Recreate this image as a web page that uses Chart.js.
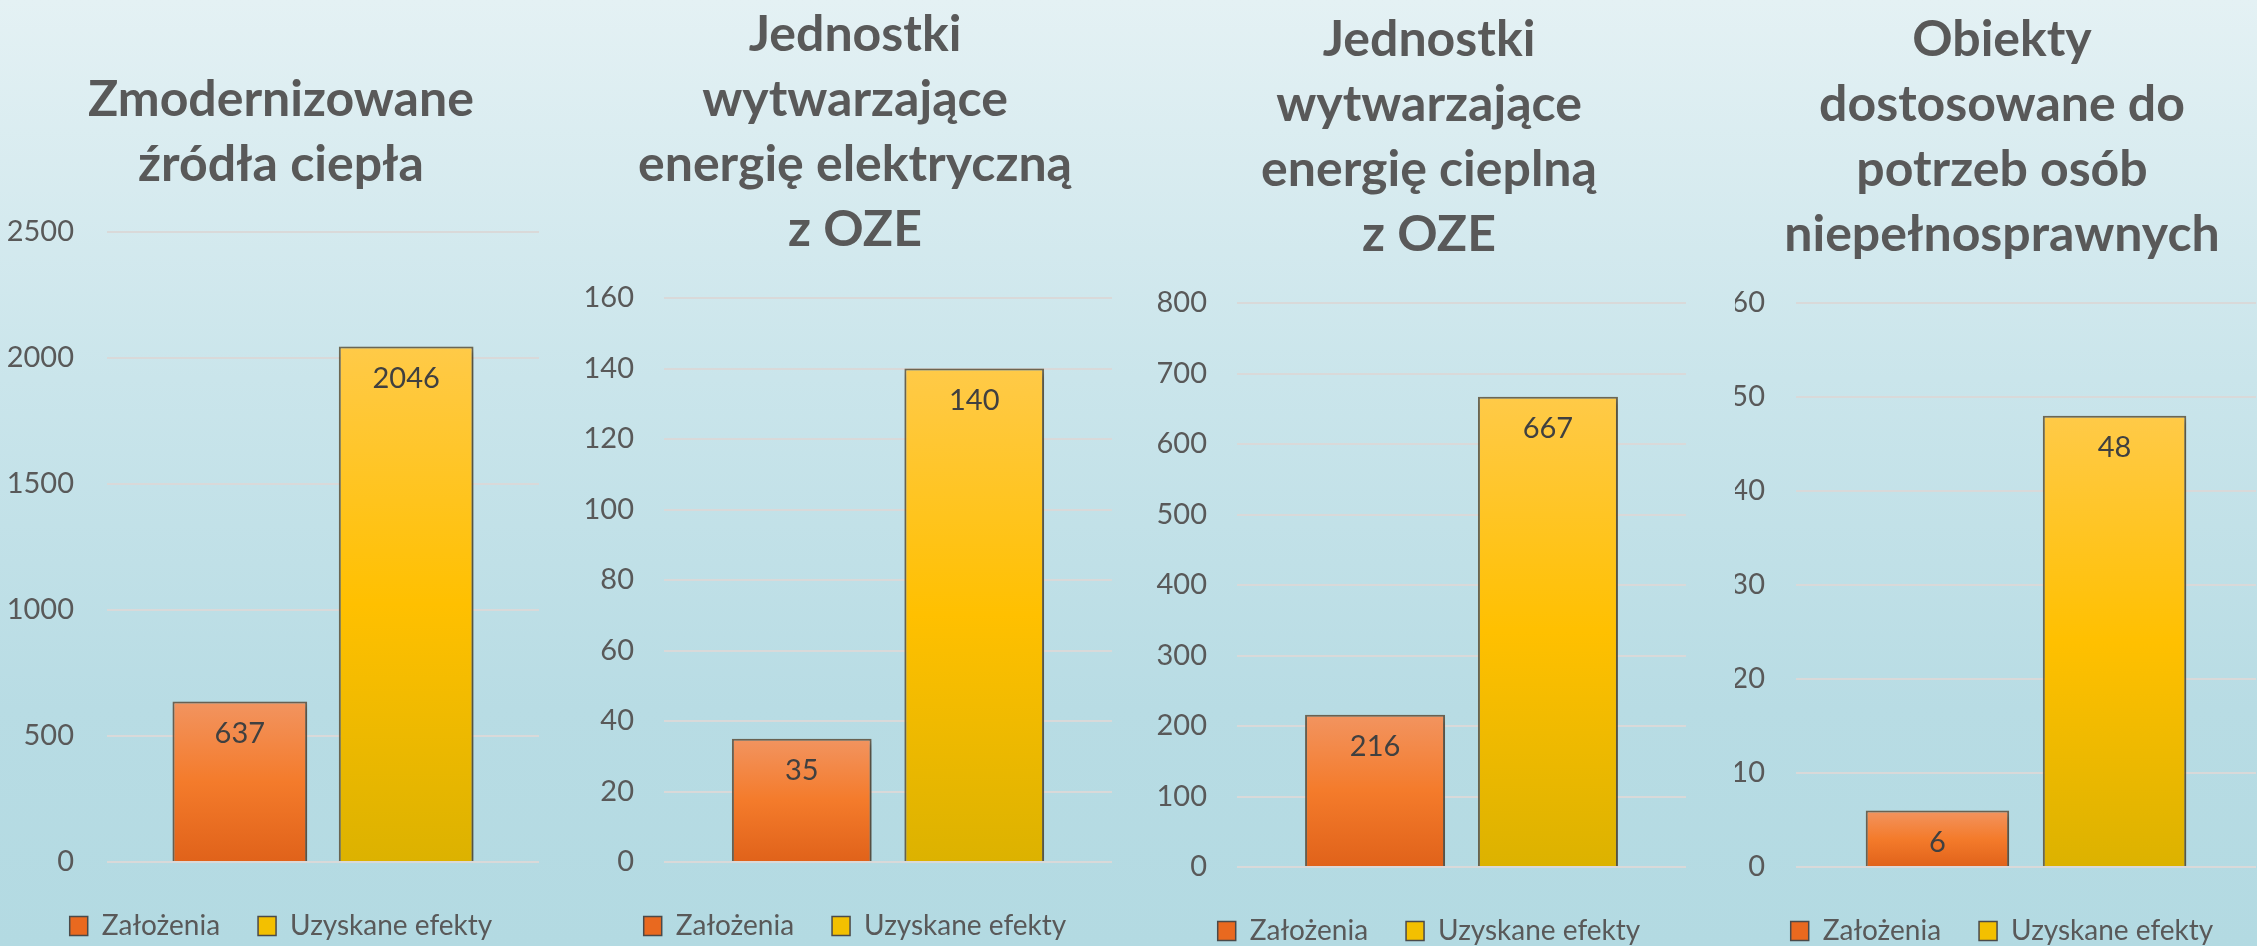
<!DOCTYPE html>
<html lang="pl">
<head>
<meta charset="utf-8">
<title>Efekty</title>
<script src="https://cdn.jsdelivr.net/npm/chart.js@4/dist/chart.umd.min.js"></script>
<style>
    html, body { margin: 0; width: 2257px; height: 946px; overflow: hidden; }
    body {
        position: relative;
        background: linear-gradient(180deg, #e4f1f4 0%, #cae5eb 40%, #b8dce4 75%, #b3dae2 100%);
    }
    canvas { position: absolute; top: 0; }
</style>
</head>
<body>
<canvas id="c0"></canvas>
<canvas id="c1"></canvas>
<canvas id="c2"></canvas>
<canvas id="c3"></canvas>
<script>
// Data
const seriesNames = ['Założenia', 'Uzyskane efekty'];
const titles = [
    ['Zmodernizowane', 'źródła ciepła'],
    ['Jednostki', 'wytwarzające', 'energię elektryczną', 'z OZE'],
    ['Jednostki', 'wytwarzające', 'energię cieplną', 'z OZE'],
    ['Obiekty', 'dostosowane do', 'potrzeb osób', 'niepełnosprawnych']
];
const planned = [637, 35, 216, 6];
const achieved = [2046, 140, 667, 48];
const axisMax = [2500, 160, 800, 60];
const axisStep = [500, 20, 100, 10];

// Panel geometry (page pixels)
const panels = [
    { left: 0,    width: 562, axisLeft: 107, axisRight: 23, tickPad: 33, titleTop: 67.5, titleBottom: 34.5, bottomPad: 10 },
    { left: 580,  width: 550, axisLeft: 84,  axisRight: 18, tickPad: 30, titleTop: 2.5,  titleBottom: 35.5, bottomPad: 10 },
    { left: 1150, width: 558, axisLeft: 87,  axisRight: 22, tickPad: 30, titleTop: 7.5,  titleBottom: 35.5, bottomPad: 5 },
    { left: 1735, width: 534, axisLeft: 61,  axisRight: 13, tickPad: 31, titleTop: 7.5,  titleBottom: 35.5, bottomPad: 5 }
];

const textColor = '#595959';
const orangeStops = ['#f29460', '#f47b2b', '#e0621a'];
const yellowStops = ['#ffca48', '#ffc000', '#dcb200'];
const legendColors = ['#e9691f', '#f3c000'];

Chart.defaults.font.family = 'Lato, "Open Sans", sans-serif';
Chart.defaults.color = textColor;

function barFill(stops) {
    return function (ctx) {
        const chart = ctx.chart;
        if (!chart.chartArea || ctx.raw == null) return stops[1];
        const y = chart.scales.y;
        const top = y.getPixelForValue(ctx.raw);
        const bottom = y.getPixelForValue(0);
        const g = chart.ctx.createLinearGradient(0, top, 0, bottom);
        g.addColorStop(0, stops[0]);
        g.addColorStop(0.5, stops[1]);
        g.addColorStop(1, stops[2]);
        return g;
    };
}

// shadow under bars + value labels inside the top of each bar
const barExtras = {
    id: 'barExtras',
    beforeDatasetsDraw(chart) {
        const ctx = chart.ctx;
        ctx.save();
        ctx.shadowColor = 'rgba(0, 0, 0, 0.3)';
        ctx.shadowBlur = 6;
        ctx.shadowOffsetX = 2;
        ctx.shadowOffsetY = 3;
    },
    afterDatasetsDraw(chart) {
        const ctx = chart.ctx;
        ctx.restore();
        ctx.save();
        ctx.font = '29px Lato, "Open Sans", sans-serif';
        ctx.fillStyle = '#404040';
        ctx.textAlign = 'center';
        ctx.textBaseline = 'middle';
        chart.data.datasets.forEach(function (ds, i) {
            chart.getDatasetMeta(i).data.forEach(function (bar, j) {
                ctx.fillText(String(ds.data[j]), bar.x, bar.y + 32);
            });
        });
        ctx.restore();
    }
};

panels.forEach(function (p, i) {
    const canvas = document.getElementById('c' + i);
    canvas.width = p.width;
    canvas.height = 960;
    canvas.style.left = p.left + 'px';

    new Chart(canvas, {
        type: 'bar',
        data: {
            labels: [''],
            datasets: [{
                label: seriesNames[0],
                data: [planned[i]],
                backgroundColor: barFill(orangeStops),
                borderColor: 'rgba(95, 80, 60, 0.85)',
                borderWidth: 2
            }, {
                label: seriesNames[1],
                data: [achieved[i]],
                backgroundColor: barFill(yellowStops),
                borderColor: 'rgba(95, 85, 60, 0.85)',
                borderWidth: 2
            }]
        },
        options: {
            responsive: false,
            animation: false,
            categoryPercentage: 0.77,
            barPercentage: 0.81,
            layout: { padding: { left: 0, right: 0, top: 0, bottom: p.bottomPad } },
            scales: {
                x: { display: false },
                y: {
                    min: 0,
                    max: axisMax[i],
                    ticks: {
                        stepSize: axisStep[i],
                        padding: p.tickPad,
                        font: { size: 29 },
                        color: textColor,
                        callback: function (v) { return String(v); }
                    },
                    grid: { color: '#d9d9d9', lineWidth: 2, drawTicks: false },
                    border: { display: false },
                    afterFit: function (s) { s.width = p.axisLeft; }
                },
                y2: {
                    position: 'right',
                    ticks: { display: false },
                    grid: { display: false },
                    border: { display: false },
                    afterFit: function (s) { s.width = p.axisRight; }
                }
            },
            plugins: {
                title: {
                    display: true,
                    text: titles[i],
                    color: textColor,
                    font: { size: 50, weight: 'bold', lineHeight: 65 / 50 },
                    padding: { top: p.titleTop, bottom: p.titleBottom }
                },
                legend: {
                    position: 'bottom',
                    title: { display: true, text: ' ', font: { size: 10, lineHeight: 1.2 }, padding: 0 },
                    labels: {
                        font: { size: 28 },
                        color: textColor,
                        boxWidth: 18,
                        boxHeight: 19,
                        padding: 38,
                        generateLabels: function (chart) {
                            return chart.data.datasets.map(function (ds, k) {
                                return {
                                    text: ds.label,
                                    fillStyle: legendColors[k],
                                    strokeStyle: '#4a4a4a',
                                    lineWidth: 1.5,
                                    fontColor: textColor,
                                    datasetIndex: k
                                };
                            });
                        }
                    }
                },
                tooltip: { enabled: false }
            }
        },
        plugins: [barExtras]
    });
});
</script>
</body>
</html>
